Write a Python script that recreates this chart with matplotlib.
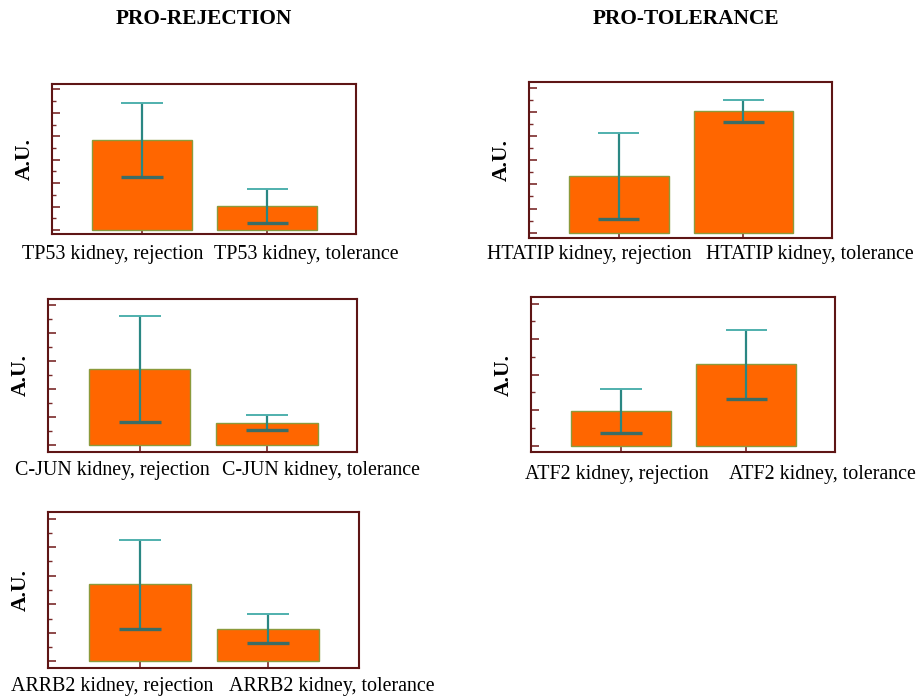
import matplotlib.pyplot as plt
from matplotlib.ticker import MultipleLocator

# ── Data (arbitrary units) ───────────────────────────────────────────────────
tp53_labels = ["TP53 kidney, rejection", "TP53 kidney, tolerance"]
tp53_mean = [3.84, 1.02]
tp53_err = [1.58, 0.73]

cjun_labels = ["C-JUN kidney, rejection", "C-JUN kidney, tolerance"]
cjun_mean = [2.73, 0.80]
cjun_err = [1.89, 0.27]

arrb2_labels = ["ARRB2 kidney, rejection", "ARRB2 kidney, tolerance"]
arrb2_mean = [2.70, 1.15]
arrb2_err = [1.56, 0.52]

htatip_labels = ["HTATIP kidney, rejection", "HTATIP kidney, tolerance"]
htatip_mean = [2.35, 5.04]
htatip_err = [1.77, 0.47]

atf2_labels = ["ATF2 kidney, rejection", "ATF2 kidney, tolerance"]
atf2_mean = [0.98, 2.29]
atf2_err = [0.63, 0.98]

# ── Style ────────────────────────────────────────────────────────────────────
SERIF = "Liberation Serif"
BAR = "#ff6600"
BAR_EDGE = "#8c9a3c"
SPINE = "#5e1515"
TICK = "#7a2a2a"
ERR = "#2a8783"
CAP_HI = "#4fb0ad"
CAP_LO = "#3b6d66"

W, H = 923, 698
fig = plt.figure(figsize=(W / 100, H / 100), dpi=100)


def panel(px, data, label_fx, label_dy, ymax, ymin, major):
    left, top, width, height = px
    ax = fig.add_axes([left / W, 1 - (top + height) / H, width / W, height / H])
    labels, mean, err = data
    xs = list(range(len(mean)))
    ax.bar(xs, mean, width=0.8, color=BAR, edgecolor=BAR_EDGE, linewidth=1.0, zorder=2)
    half = 0.165
    for x, m, e in zip(xs, mean, err):
        ax.vlines(x, m - e, m + e, color=ERR, lw=1.6, zorder=3)
        ax.hlines(m + e, x - half, x + half, color=CAP_HI, lw=1.4, zorder=3)
        ax.hlines(m - e, x - half, x + half, color=CAP_LO, lw=2.4, zorder=3)
    ax.set_xlim(-0.72, 1.71)
    ax.set_ylim(ymin, ymax)
    ax.yaxis.set_major_locator(MultipleLocator(major))
    ax.yaxis.set_minor_locator(MultipleLocator(major / 2))
    ax.set_yticklabels([])
    ax.tick_params(axis="y", which="major", direction="in", length=6, width=1.2,
                   color=TICK)
    ax.tick_params(axis="y", which="minor", direction="in", length=3, width=1.0,
                   color=TICK)
    ax.set_xticks(xs)
    ax.set_xticklabels([])
    ax.tick_params(axis="x", direction="in", length=4, width=1.2, color=TICK)
    for s in ax.spines.values():
        s.set_color(SPINE)
        s.set_linewidth(1.5)
    ax.set_ylabel("A.U.", fontfamily=SERIF, fontweight="bold", fontsize=15.5)
    ax.yaxis.set_label_coords(-17 / width, 0.5)
    for lab, fx in zip(labels, label_fx):
        ax.annotate(lab, xy=(fx, 0), xycoords="axes fraction",
                    xytext=(0, -label_dy), textcoords="offset pixels",
                    ha="center", va="center", fontfamily=SERIF, fontsize=14.4,
                    annotation_clip=False)
    return ax


panel((52, 84, 304, 150), (tp53_labels, tp53_mean, tp53_err),
      (0.20, 0.835), 20, 6.23, -0.17, 1.0)
panel((48, 299, 309, 153), (cjun_labels, cjun_mean, cjun_err),
      (0.207, 0.883), 19, 5.23, -0.24, 1.0)
panel((48, 512, 311, 156), (arrb2_labels, arrb2_mean, arrb2_err),
      (0.206, 0.913), 18, 5.23, -0.23, 1.0)
panel((529, 82, 303, 156), (htatip_labels, htatip_mean, htatip_err),
      (0.198, 0.927), 16, 6.24, -0.22, 1.0)
panel((531, 297, 304, 155), (atf2_labels, atf2_mean, atf2_err),
      (0.283, 0.96), 22, 4.19, -0.18, 1.0)

fig.text(204 / W, 1 - 19 / H, "PRO-REJECTION", ha="center", va="center",
         fontfamily=SERIF, fontweight="bold", fontsize=15.4)
fig.text(686 / W, 1 - 19 / H, "PRO-TOLERANCE", ha="center", va="center",
         fontfamily=SERIF, fontweight="bold", fontsize=15.4)

fig.savefig("out.png", dpi=100, facecolor="white")
